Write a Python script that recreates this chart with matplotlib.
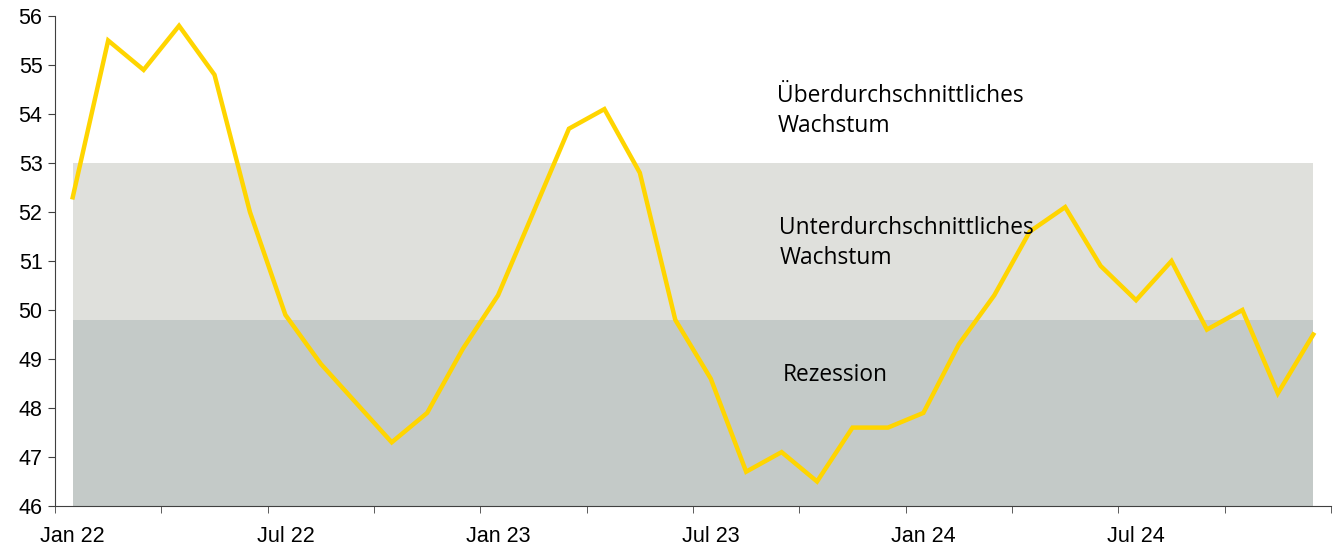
import matplotlib
matplotlib.use("Agg")
import matplotlib.pyplot as plt
import numpy as np

months = ["Jan 22","Feb 22","Mar 22","Apr 22","May 22","Jun 22","Jul 22","Aug 22","Sep 22","Oct 22","Nov 22","Dec 22",
          "Jan 23","Feb 23","Mar 23","Apr 23","May 23","Jun 23","Jul 23","Aug 23","Sep 23","Oct 23","Nov 23","Dec 23",
          "Jan 24","Feb 24","Mar 24","Apr 24","May 24","Jun 24","Jul 24","Aug 24","Sep 24","Oct 24","Nov 24","Dec 24"]
values = [52.3, 55.5, 54.9, 55.8, 54.8, 52.0, 49.9, 48.9, 48.1, 47.3, 47.9, 49.2,
          50.3, 52.0, 53.7, 54.1, 52.8, 49.8, 48.6, 46.7, 47.1, 46.5, 47.6, 47.6,
          47.9, 49.3, 50.3, 51.6, 52.1, 50.9, 50.2, 51.0, 49.6, 50.0, 48.3, 49.5]
band_low = [46.0, 49.8]
band_mid = [49.8, 53.0]
label_ticks = ["Jan 22", "Jul 22", "Jan 23", "Jul 23", "Jan 24", "Jul 24"]
yticks = [46, 47, 48, 49, 50, 51, 52, 53, 54, 55, 56]

fig = plt.figure(figsize=(13.35, 5.46), dpi=100)
ax = fig.add_axes([55/1335, 1-506/546, (1331-55)/1335, (506-16)/546])

x = np.arange(len(months))
ax.fill_between([x[0], x[-1]], band_low[0], band_low[1], color="#C4CAC8", lw=0, zorder=1)
ax.fill_between([x[0], x[-1]], band_mid[0], band_mid[1], color="#DFE0DC", lw=0, zorder=1)
ax.plot(x, values, color="#FFD500", lw=3.2, zorder=3, solid_joinstyle="miter")

ax.set_xlim(-0.5, len(months) - 0.5)
ax.set_ylim(46, 56)
ax.set_yticks(yticks)
ax.set_yticklabels([str(v) for v in yticks], fontsize=15.5, family="Liberation Sans")

ax.set_xticks(np.arange(-0.5, len(months), 3), minor=True)
ax.set_xticks([months.index(m) for m in label_ticks])
ax.set_xticklabels(label_ticks, fontsize=15.5, family="Liberation Sans")
ax.tick_params(axis="x", which="major", length=0, pad=14.5)
ax.tick_params(axis="x", which="minor", length=5, direction="out", color="#404040")
ax.tick_params(axis="y", length=5, direction="out", color="#404040", pad=4)

for s in ["top", "right"]:
    ax.spines[s].set_visible(False)
ax.spines["left"].set_color("#404040")
ax.spines["bottom"].set_color("#404040")

def px2x(px):
    return (px - 72.7) / 35.43

ax.text(px2x(777), 54.06, "Überdurchschnittliches\nWachstum", fontsize=16.4, family="Open Sans",
        va="center", ha="left", linespacing=1.3, zorder=4)
ax.text(px2x(779), 51.37, "Unterdurchschnittliches\nWachstum", fontsize=16.4, family="Open Sans",
        va="center", ha="left", linespacing=1.3, zorder=4)
ax.text(px2x(782), 48.67, "Rezession", fontsize=16.4, family="Open Sans",
        va="center", ha="left", zorder=4)

fig.savefig("out.png", dpi=100)
